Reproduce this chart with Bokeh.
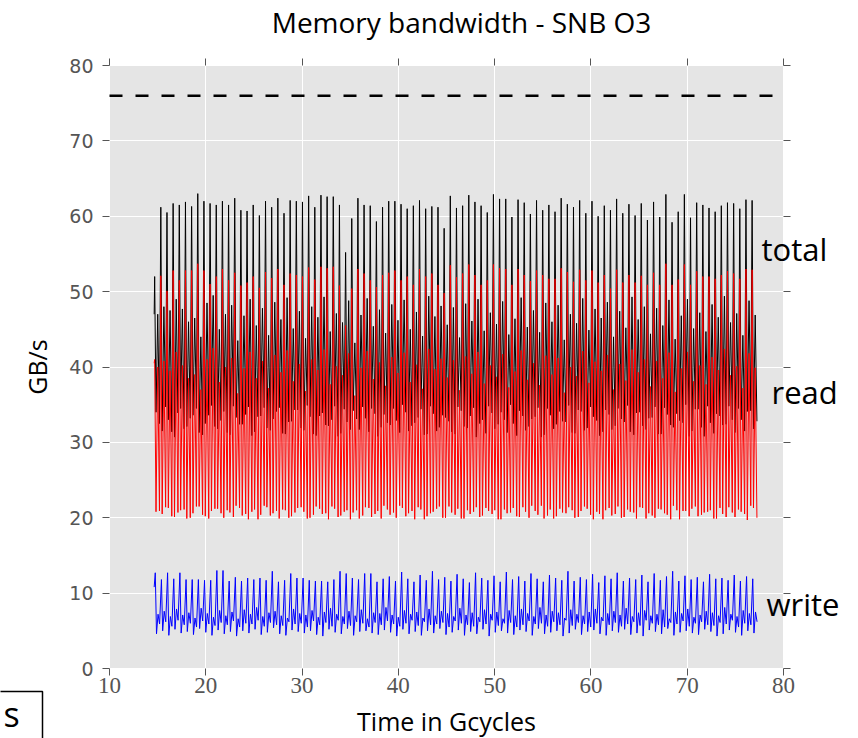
from bokeh.plotting import figure
from bokeh.models import (Label, LinearAxis, Range1d, FixedTicker, BoxAnnotation,
                          CustomJSTickFormatter, Grid)
from bokeh.embed import file_html
from bokeh.resources import INLINE

# ---------------- data ----------------
TITLE = "Memory bandwidth - SNB O3"
X_LABEL = "Time in Gcycles"
Y_LABEL = "GB/s"
X_TICKS = [10, 20, 30, 40, 50, 60, 70, 80]
Y_TICKS = [0, 10, 20, 30, 40, 50, 60, 70, 80]
PEAK_BW = 76.0               # dashed line: peak bandwidth
SERIES_NAMES = ["total", "read", "write"]
CORNER_TEXT = "s"            # cropped box at the lower-left corner

T_START = 14.64              # first sample (Gcycles)
T_FIRST_PEAK = 14.69         # first "tall" peak
CYCLE = 0.6397               # length of one cycle (Gcycles)
PHASE_TR = [0.0, 0.22, 0.5, 0.78]   # hi, low, mid, low inside a cycle
PHASE_W = [0.10, 0.30, 0.55, 0.80]  # peak, trough, shoulder, dip

TOTAL_START, READ_START, WRITE_START = 47.0, 40.5, 10.8

TOTAL_HI = [52.0,
    61.2, 60.5, 61.7, 61.5, 61.9, 61.3, 63.0, 62.0, 61.7, 61.5,
    62.0, 61.5, 62.4, 60.8, 60.7, 61.5, 60.1, 62.0, 61.2, 62.4,
    60.4, 62.1, 62.0, 61.9, 62.7, 61.2, 62.8, 62.6,
    62.6, 61.5, 55.2, 59.7, 62.4, 61.5, 61.4, 59.3, 61.2, 62.0,
    62.0, 61.6, 61.0, 61.4, 62.1, 61.0, 61.3, 61.2, 58.4, 62.7,
    61.1, 61.4, 62.8, 61.9, 61.4, 60.5, 62.9, 62.3, 62.3, 59.9,
    62.2, 61.8, 60.3, 62.1, 60.8, 61.5, 60.6, 62.4, 61.6, 61.2,
    62.1, 60.4, 62.0, 60.0, 61.4, 60.8, 62.3, 60.4, 61.6, 60.1,
    61.7, 59.5, 61.9, 59.9, 62.9, 59.2, 60.6, 62.9, 59.8, 61.8,
    61.5, 61.1, 60.6, 61.4, 61.8, 61.7, 61.0, 62.2, 62.1]
TOTAL_LO1 = [
    34.0, 31.5, 33.0, 30.7, 34.5, 32.1, 33.6, 31.3, 32.5, 34.9,
    31.8, 34.1, 31.0, 33.3, 32.4, 34.7, 31.4, 33.5, 31.9, 33.1,
    34.6, 31.1, 32.8, 34.3, 31.6, 33.4, 30.9, 33.9, 32.2, 34.8,
    31.2, 32.7, 34.2, 31.7, 33.2, 34.5, 30.8, 33.7, 32.3, 32.9,
    35.0, 31.5, 32.6, 34.4, 31.1, 33.8, 32.0, 33.3, 31.4, 34.7,
    32.1, 33.5, 30.7, 33.0, 34.8, 31.8, 34.0, 31.3, 32.5, 34.2,
    31.6, 33.1, 34.6, 31.0, 33.6, 32.4, 32.8, 34.9, 31.2, 34.1,
    31.9, 33.4, 30.9, 34.3, 31.7, 34.5, 32.7, 31.4, 33.9, 32.2,
    33.2, 34.7, 31.1, 33.7, 32.0, 32.9, 35.0, 31.5, 34.4, 30.8,
    32.6, 33.8, 32.3, 34.8, 31.3, 33.0, 34.1, 31.8]
TOTAL_MID = [
    47.0, 48.0, 47.5, 49.0, 47.7, 46.0, 46.5, 44.0, 48.5, 49.5,
    45.0, 47.0, 48.2, 43.5, 46.8, 49.0, 45.5, 47.8, 44.2, 48.6,
    46.3, 49.2, 45.1, 47.4, 43.8, 48.0, 46.6, 49.3, 44.7, 47.1,
    45.9, 48.8, 43.2, 46.9, 49.1, 45.4, 47.6, 44.5, 48.3, 46.2,
    48.9, 45.0, 47.3, 44.1, 49.4, 46.7, 48.1, 45.6, 47.9, 43.9,
    48.4, 46.1, 49.0, 44.8, 47.2, 45.7, 48.7, 44.3, 46.4, 49.2,
    45.3, 47.5, 44.6, 48.5, 46.0, 48.2, 43.6, 47.0, 45.8, 49.1,
    44.9, 47.7, 46.5, 48.6, 44.0, 47.4, 45.2, 49.3, 46.3, 48.0,
    44.4, 47.8, 45.5, 48.9, 43.7, 46.8, 49.0, 45.1, 47.2, 44.7,
    48.3, 46.6, 49.4, 45.9, 47.1, 44.2, 48.8, 46.9]
TOTAL_LO2 = [
    32.5, 34.7, 31.4, 33.9, 31.8, 33.2, 34.5, 31.0, 33.6, 32.1,
    32.9, 31.3, 34.8, 32.4, 33.7, 30.9, 33.4, 34.6, 31.6, 34.1,
    31.2, 32.7, 34.3, 31.9, 34.9, 31.1, 33.5, 32.3, 33.0, 30.8,
    34.4, 31.7, 33.1, 34.7, 31.4, 33.8, 32.0, 32.6, 34.5, 31.3,
    34.0, 32.2, 33.3, 31.0, 34.8, 31.5, 33.6, 32.8, 31.1, 34.2,
    31.9, 34.6, 32.5, 31.2, 33.9, 32.4, 33.0, 35.0, 30.9, 33.5,
    32.1, 33.4, 30.7, 34.5, 31.8, 34.1, 32.7, 31.3, 34.3, 31.6,
    34.7, 32.9, 31.4, 33.7, 32.2, 33.1, 34.9, 31.0, 34.0, 31.7,
    33.3, 31.1, 34.6, 32.3, 33.8, 32.6, 30.8, 34.4, 32.0, 34.8,
    31.2, 33.5, 32.4, 33.0, 34.5, 31.5, 34.2, 32.8]

READ_HI = [41.0,
    52.1, 50.1, 52.8, 51.5, 52.8, 52.8, 53.7, 52.8, 51.0, 52.0,
    53.0, 51.5, 52.5, 50.8, 51.2, 52.0, 50.5, 52.6, 51.8, 53.0,
    50.9, 52.4, 52.2, 52.0, 53.2, 51.6, 53.3, 53.1,
    53.3, 50.8, 45.5, 50.4, 53.0, 52.4, 51.5, 50.6, 52.2, 52.5,
    52.8, 51.5, 52.0, 50.9, 53.0, 52.0, 52.4, 50.9, 49.8, 53.5,
    51.9, 52.4, 53.6, 52.2, 50.9, 51.5, 53.6, 53.1, 53.0, 50.9,
    53.0, 52.2, 51.4, 52.8, 52.2, 51.7, 51.7, 53.1, 52.6, 51.3,
    52.9, 51.5, 52.8, 51.2, 52.2, 50.4, 52.9, 51.2, 52.2, 51.2,
    52.1, 50.9, 52.5, 50.9, 53.7, 50.9, 51.6, 53.6, 50.9, 52.7,
    52.0, 52.0, 51.7, 52.2, 52.7, 52.4, 51.7, 53.0, 52.9]
READ_LO1 = [
    20.8, 20.5, 21.3, 20.1, 21.0, 19.9, 20.6, 21.5, 20.2, 20.9,
    21.2, 20.0, 20.7, 21.6, 20.3, 19.8, 21.1, 20.4, 21.4, 20.6,
    19.9, 21.0, 20.2, 21.3, 20.8, 20.0, 21.5, 20.5, 19.8, 21.2,
    20.3, 21.0, 20.7, 19.9, 21.4, 20.1, 20.9, 21.6, 20.4, 20.0,
    21.3, 20.6, 19.8, 21.1, 20.2, 20.8, 21.5, 20.0, 20.7, 21.2,
    19.9, 20.5, 21.4, 20.3, 20.9, 21.0, 19.8, 20.6, 21.3, 20.1,
    20.8, 21.6, 20.4, 19.9, 21.1, 20.2, 20.7, 21.4, 20.0, 20.9,
    21.2, 19.8, 20.5, 21.0, 20.3, 21.5, 20.1, 20.8, 19.9, 21.3,
    20.6, 20.0, 21.1, 20.4, 21.6, 19.8, 20.9, 21.2, 20.2, 20.7,
    21.0, 19.9, 20.5, 21.4, 20.1, 20.8, 19.7, 21.3]
READ_MID = [
    40.0, 40.8, 39.5, 42.0, 40.2, 38.5, 39.0, 37.0, 41.0, 42.5,
    38.0, 40.0, 41.2, 36.5, 39.8, 42.0, 38.5, 40.8, 37.2, 41.6,
    39.3, 42.2, 38.1, 40.4, 36.8, 41.0, 39.6, 42.3, 37.7, 40.1,
    38.9, 41.8, 36.2, 39.9, 42.1, 38.4, 40.6, 37.5, 41.3, 39.2,
    41.9, 38.0, 40.3, 37.1, 42.4, 39.7, 41.1, 38.6, 40.9, 36.9,
    41.4, 39.1, 42.0, 37.8, 40.2, 38.7, 41.7, 37.3, 39.4, 42.2,
    38.3, 40.5, 37.6, 41.5, 39.0, 41.2, 36.6, 40.0, 38.8, 42.1,
    37.9, 40.7, 39.5, 41.6, 37.0, 40.4, 38.2, 42.3, 39.3, 41.0,
    37.4, 40.8, 38.5, 41.9, 36.7, 39.8, 42.0, 38.1, 40.2, 37.7,
    41.3, 39.6, 42.4, 38.9, 40.1, 37.2, 41.8, 39.9]
READ_LO2 = [
    20.9, 21.4, 20.2, 20.7, 21.1, 20.0, 21.5, 20.4, 19.9, 21.2,
    20.6, 21.0, 20.1, 21.3, 20.5, 20.8, 19.8, 21.6, 20.3, 20.9,
    21.1, 20.0, 20.7, 21.4, 19.9, 20.4, 21.2, 20.6, 21.5, 20.1,
    20.8, 19.8, 21.0, 20.3, 21.3, 20.5, 19.9, 21.1, 20.7, 21.6,
    20.2, 20.9, 21.4, 19.8, 20.6, 21.2, 20.0, 21.5, 20.4, 19.9,
    21.0, 20.8, 20.1, 21.3, 20.5, 19.8, 21.1, 20.7, 20.2, 21.4,
    20.0, 20.9, 21.6, 20.3, 19.9, 21.2, 20.6, 21.0, 20.1, 21.5,
    20.4, 20.8, 19.8, 21.3, 20.5, 20.0, 21.1, 20.7, 21.4, 19.9,
    20.3, 21.2, 20.6, 19.8, 21.0, 20.9, 20.2, 21.5, 20.4, 20.8,
    19.9, 21.3, 20.1, 20.7, 21.1, 20.5, 21.6, 20.0]

WRITE_HI = [
    12.7, 11.8, 12.7, 11.9, 12.7, 11.8, 11.8, 11.8, 11.7, 11.7,
    13.0, 13.0, 11.6, 12.1, 11.6, 12.0, 11.8, 12.0, 11.7, 12.9,
    11.5, 11.7, 12.6, 12.0, 12.0, 11.7, 11.6, 11.6, 11.5, 11.8,
    12.9, 12.6, 12.0, 11.8, 12.6, 12.6, 11.5, 11.9,
    12.2, 11.6, 12.8, 11.9, 11.5, 12.4, 11.7, 12.9, 11.8, 12.1,
    11.6, 12.5, 11.9, 11.4, 12.7, 12.0, 11.7, 12.3, 11.5, 12.8,
    11.8, 12.2, 11.6, 12.6, 11.9, 11.5, 12.4, 12.0, 11.7, 12.9,
    11.6, 12.1, 11.8, 12.5, 11.4, 12.3, 11.9, 12.7, 11.6, 12.0,
    11.8, 12.4, 11.5, 12.6, 11.7, 12.2, 12.9, 11.6, 12.3, 11.8,
    12.1, 11.5, 12.5, 11.9, 12.0, 11.7, 12.4, 11.6, 12.2, 11.9]
WRITE_LO1 = [
    4.6, 5.0, 4.4, 5.2, 4.7, 4.9, 4.5, 5.3, 4.8, 4.4,
    5.1, 4.6, 4.9, 4.3, 5.0, 4.7, 5.2, 4.5, 4.8, 5.4,
    4.6, 4.4, 5.1, 4.9, 4.7, 5.0, 4.5, 4.3, 5.2, 4.8,
    4.6, 5.3, 4.4, 4.9, 5.0, 4.7, 4.5, 5.1, 4.8, 4.3,
    5.2, 4.6, 4.9, 4.4, 5.0, 4.7, 5.3, 4.5, 4.8, 5.1,
    4.4, 4.9, 4.6, 5.2, 4.3, 4.8, 5.0, 4.7, 4.5, 5.1,
    4.9, 4.4, 5.3, 4.6, 4.8, 5.0, 4.3, 4.7, 5.2, 4.5,
    4.9, 5.1, 4.6, 4.4, 5.0, 4.8, 5.2, 4.5, 4.7, 4.3,
    5.1, 4.9, 4.6, 5.3, 4.4, 4.8, 5.0, 4.7, 4.5, 5.2,
    4.9, 4.3, 4.6, 5.1, 4.8, 4.4, 5.0, 4.7]
WRITE_MID = [
    7.2, 7.6, 6.9, 7.9, 7.1, 7.4, 6.7, 8.0, 7.3, 6.8,
    7.7, 7.0, 7.5, 6.6, 7.8, 7.2, 8.1, 6.9, 7.4, 7.6,
    7.0, 6.7, 7.9, 7.3, 7.1, 7.7, 6.8, 7.5, 8.0, 7.2,
    6.9, 7.6, 7.0, 7.8, 6.6, 7.4, 7.3, 8.1, 7.1, 6.8,
    7.7, 7.2, 7.5, 6.7, 7.9, 7.0, 7.6, 7.3, 6.9, 8.0,
    7.1, 7.4, 6.8, 7.8, 7.2, 7.5, 6.6, 7.7, 7.0, 7.9,
    7.3, 6.9, 8.1, 7.1, 7.6, 7.4, 6.7, 7.8, 7.2, 7.0,
    7.5, 7.9, 6.8, 7.3, 7.6, 7.1, 8.0, 6.9, 7.4, 7.7,
    7.0, 7.2, 7.8, 6.6, 7.5, 7.3, 7.9, 6.8, 7.1, 7.6,
    7.4, 7.0, 8.1, 7.2, 6.9, 7.7, 7.3, 7.5]
WRITE_LO2 = [
    5.9, 6.2, 5.6, 6.4, 5.8, 6.0, 5.5, 6.3, 5.9, 5.7,
    6.1, 5.8, 6.3, 5.5, 6.0, 5.9, 6.4, 5.6, 6.1, 5.8,
    5.7, 6.2, 5.9, 6.0, 5.5, 6.3, 5.8, 6.1, 5.6, 6.4,
    5.9, 5.7, 6.2, 6.0, 5.5, 6.1, 5.8, 6.3, 5.9, 5.6,
    6.0, 6.4, 5.7, 6.2, 5.8, 5.9, 6.1, 5.5, 6.3, 6.0,
    5.8, 5.6, 6.2, 5.9, 6.4, 5.7, 6.0, 6.1, 5.5, 5.8,
    6.3, 5.9, 6.0, 5.6, 6.2, 5.8, 6.4, 5.7, 6.1, 5.9,
    5.5, 6.0, 6.3, 5.8, 6.1, 5.6, 5.9, 6.2, 5.7, 6.4,
    6.0, 5.8, 5.5, 6.1, 5.9, 6.3, 5.6, 6.0, 6.2, 5.8,
    5.7, 6.1, 5.9, 6.4, 5.5, 6.0, 5.8, 6.2]

# ---------------- build the polylines ----------------
def build(start, phases, cols):
    n = min(len(c) for c in cols)
    ts, vs = [T_START], [start]
    for k in range(n):
        base = T_FIRST_PEAK + k * CYCLE
        for ph, col in zip(phases, cols):
            ts.append(base + ph * CYCLE)
            vs.append(col[k])
    return ts, vs

t_tot, v_tot = build(TOTAL_START, PHASE_TR, [TOTAL_HI, TOTAL_LO1, TOTAL_MID, TOTAL_LO2])
t_rd, v_rd = build(READ_START, PHASE_TR, [READ_HI, READ_LO1, READ_MID, READ_LO2])
t_wr, v_wr = build(WRITE_START, PHASE_W, [WRITE_HI, WRITE_LO1, WRITE_MID, WRITE_LO2])

# ---------------- page geometry (pixels) ----------------
# The frame covers the whole page; axes sit at fixed data locations so that
# the texts around the grey area (which reach past its edges) are not clipped.
W, H = 858, 738
AX_LEFT_PX, AX_RIGHT_PX = 109, 783     # where x = 10 and x = 80 fall
AX_TOP_PX, AX_BOTTOM_PX = 65, 668      # where y = 80 and y = 0 fall
px_x = (AX_RIGHT_PX - AX_LEFT_PX) / (X_TICKS[-1] - X_TICKS[0])
px_y = (AX_BOTTOM_PX - AX_TOP_PX) / (Y_TICKS[-1] - Y_TICKS[0])

def dx(px):   # page pixel -> data x
    return X_TICKS[0] + (px - AX_LEFT_PX) / px_x

def dy(py):   # page pixel -> data y
    return Y_TICKS[0] + (AX_BOTTOM_PX - py) / px_y

p = figure(width=W, height=H, output_backend="svg", toolbar_location=None,
           x_range=Range1d(dx(0), dx(W)), y_range=Range1d(dy(H), dy(0)),
           x_axis_location=None, y_axis_location=None,
           min_border_left=0, min_border_right=0, min_border_top=0, min_border_bottom=0)
p.background_fill_color = "white"
p.border_fill_color = "white"
p.outline_line_color = None
p.center = [c for c in p.center if not isinstance(c, Grid)]

# grey plotting area
p.add_layout(BoxAnnotation(left=X_TICKS[0], right=X_TICKS[-1], bottom=Y_TICKS[0], top=Y_TICKS[-1],
                           fill_color="#e5e5e5", fill_alpha=1.0, line_color=None, level="image"))

# white grid
gx = Grid(dimension=0, ticker=FixedTicker(ticks=X_TICKS), grid_line_color="white", grid_line_width=1)
gy = Grid(dimension=1, ticker=FixedTicker(ticks=Y_TICKS), grid_line_color="white", grid_line_width=1)
if "cross_bounds" in gx.properties():
    gx.cross_bounds = (Y_TICKS[0], Y_TICKS[-1])
    gy.cross_bounds = (X_TICKS[0], X_TICKS[-1])
gx.bounds = (X_TICKS[0], X_TICKS[-1])
gy.bounds = (Y_TICKS[0], Y_TICKS[-1])
p.add_layout(gx)
p.add_layout(gy)

TICK_COL = "#555555"

def style_axis(ax, ticks):
    ax.ticker = FixedTicker(ticks=ticks)
    ax.bounds = (ticks[0], ticks[-1])
    ax.axis_line_color = None
    ax.major_tick_line_color = TICK_COL
    ax.major_tick_out = 7
    ax.major_tick_in = 0
    ax.minor_tick_line_color = None
    ax.major_label_text_color = TICK_COL

xaxis = LinearAxis(fixed_location=Y_TICKS[0], axis_label=X_LABEL)
yaxis = LinearAxis(fixed_location=X_TICKS[0], axis_label=Y_LABEL)
style_axis(xaxis, X_TICKS)
style_axis(yaxis, Y_TICKS)
xaxis.major_label_text_font = "Liberation Sans Narrow"
xaxis.major_label_text_font_size = "23px"
xaxis.major_label_standoff = 2
yaxis.major_label_text_font = "DejaVu Sans"
yaxis.major_label_text_font_size = "19px"
yaxis.major_label_standoff = 9
for ax in (xaxis, yaxis):
    ax.axis_label_text_font = "Open Sans"
    ax.axis_label_text_font_size = "25px"
    ax.axis_label_text_font_style = "normal"
    ax.axis_label_text_color = "black"
xaxis.axis_label_standoff = 8
yaxis.axis_label_standoff = 12
p.add_layout(xaxis, "below")
p.add_layout(yaxis, "left")

blank = CustomJSTickFormatter(code="return ''")
top = LinearAxis(fixed_location=Y_TICKS[-1])
right = LinearAxis(fixed_location=X_TICKS[-1])
for ax, ticks in ((top, X_TICKS), (right, Y_TICKS)):
    style_axis(ax, ticks)
    ax.formatter = blank
    ax.major_label_text_font_size = "8px"
    ax.major_label_standoff = 0
p.add_layout(top, "above")
p.add_layout(right, "right")

# series
p.line(t_tot, v_tot, line_color="black", line_width=1)
p.line(t_rd, v_rd, line_color="red", line_width=1)
p.line(t_wr, v_wr, line_color="blue", line_width=1)

p.line([X_TICKS[0], X_TICKS[-1]], [PEAK_BW, PEAK_BW], line_color="black",
       line_width=2.5, line_dash="13 13")

# title (kept inside the page frame so nothing clips it)
p.add_layout(Label(x=dx(461), y=dy(21), text=TITLE, text_font="Open Sans",
                   text_font_size="28px", text_color="black", text_align="center",
                   text_baseline="alphabetic"))

# labels next to the series
for name, px, py in zip(SERIES_NAMES, [761, 771, 766], [248, 391, 603]):
    p.add_layout(Label(x=dx(px), y=dy(py), text=name, text_font="Open Sans",
                       text_font_size="31px", text_color="black", text_baseline="alphabetic"))

# cropped box at the lower-left corner of the slide
p.add_layout(BoxAnnotation(left=dx(-8), right=dx(42), top=dy(691), bottom=dy(748),
                           fill_alpha=0, line_color="black", line_alpha=1.0, line_width=1.5))
p.add_layout(Label(x=dx(3), y=dy(713), text=CORNER_TEXT, text_font="Open Sans",
                   text_font_size="34px", text_color="black", text_baseline="alphabetic"))

open("out.html", "w").write(file_html(p, INLINE))
